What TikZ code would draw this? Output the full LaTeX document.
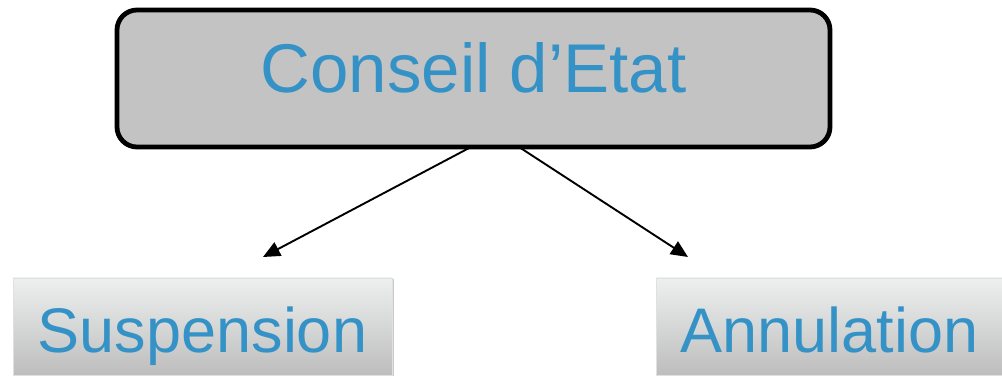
\documentclass[tikz,border=0pt]{standalone}
\usepackage{fontspec}
\setmainfont{Liberation Sans}
\usetikzlibrary{arrows.meta,shadows}
\definecolor{txtblue}{HTML}{3492C6}
\definecolor{topfill}{HTML}{C3C3C3}
\definecolor{gtop}{HTML}{EEF0F0}
\definecolor{gbot}{HTML}{BDBDBD}
\tikzset{
  topbox/.style={draw=black, line width=4.8pt, fill=topfill, rounded corners=20pt,
    minimum width=713pt, minimum height=137pt, inner sep=0pt, text=txtblue,
    text height=50pt, text depth=21pt,
    font=\fontsize{69}{80}\selectfont},
  leafbox/.style={top color=gtop, bottom color=gbot, draw=white!88!black, line width=0.8pt,
    drop shadow={shadow xshift=1.5pt, shadow yshift=-1.5pt, fill=black!35, opacity=0.6},
    minimum height=97pt, inner sep=0pt, text=txtblue, text height=55pt, text depth=2pt,
    font=\fontsize{63}{74}\selectfont},
  conn/.style={line width=1.9pt, -{Triangle[length=17pt,width=15pt]}}
}
\begin{document}
\begin{tikzpicture}[x=1pt,y=-1pt]
\useasboundingbox (0,0) rectangle (1002,379);
\node[topbox] (top) at (473.5,78.5) {Conseil d’Etat};
\node[leafbox, minimum width=379pt] (susp) at (202.5,326.5) {Suspension};
\node[leafbox, minimum width=360pt, anchor=west] (annu) at (656,326.5) {\hspace*{-14pt}Annulation};
\coordinate (s1) at (471,147);
\coordinate (s2) at (519,147);
\coordinate (e1) at (263,257);
\coordinate (e2) at (688,257);
\draw[conn] (s1) -- (e1);
\draw[conn] (s2) -- (e2);
\end{tikzpicture}
\end{document}
